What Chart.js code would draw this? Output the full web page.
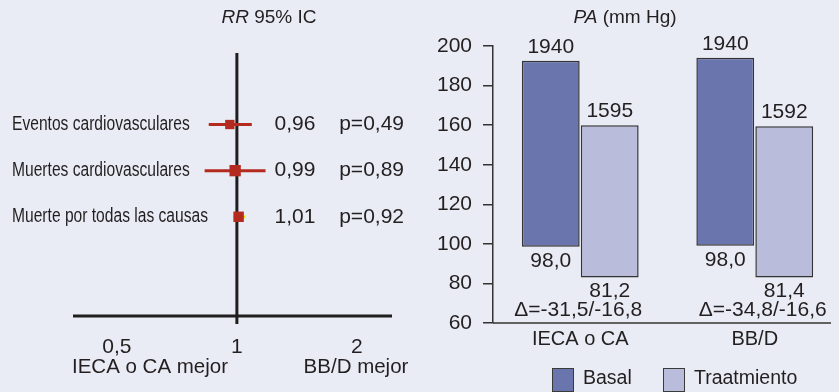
<!DOCTYPE html>
<html lang="es">
<head>
<meta charset="UTF-8">
<title>RR 95% IC y PA</title>
<script src="https://cdn.jsdelivr.net/npm/chart.js@4"></script>
<style>
    html, body {
        margin: 0;
        padding: 0;
        background: #e9ebf5;
        overflow: hidden;
        width: 839px;
        height: 392px;
    }
    #rrChart { position: absolute; left: 0; top: 0; }
    #paChart { position: absolute; left: 420px; top: 0; }
    .leg {
        position: absolute;
        top: 366px;
        height: 26px;
        line-height: 24px;
        font: 19.5px "Liberation Sans", Arial, sans-serif;
        color: #231f20;
    }
    .leg i {
        position: absolute;
        left: 0;
        top: 2px;
        width: 20px;
        height: 22px;
        border: 1.5px solid #3a3a3a;
    }
    .leg span { position: absolute; left: 31px; top: 0; white-space: nowrap; }
</style>
</head>
<body>
<canvas id="rrChart" width="420" height="392"></canvas>
<canvas id="paChart" width="430" height="392"></canvas>
<div class="leg" style="left:552px"><i style="background:#6b75ad"></i><span>Basal</span></div>
<div class="leg" style="left:663px"><i style="background:#b9bcdb"></i><span>Traatmiento</span></div>
<script>
    // ---- forest plot data (RR, 95% IC)
    const outcomes = ['Eventos cardiovasculares', 'Muertes cardiovasculares', 'Muerte por todas las causas'];
    const rr = [0.96, 0.99, 1.01];
    const ciLow = [0.85, 0.83, 0.98];
    const ciHigh = [1.09, 1.18, 1.05];
    const rrText = ['0,96', '0,99', '1,01'];
    const pText = ['p=0,49', 'p=0,89', 'p=0,92'];
    const rrTicks = [0.5, 1, 2];
    const rrTickText = ['0,5', '1', '2'];

    // ---- blood pressure data (mm Hg), floating bars diastolic..systolic
    const groups = ['IECA o CA', 'BB/D'];
    const basalLow = [98.5, 99];
    const basalHigh = [192.5, 194];
    const tratLow = [83, 83];
    const tratHigh = [160, 159.5];
    const basalTop = ['1940', '1940'];
    const basalBottom = ['98,0', '98,0'];
    const tratTop = ['1595', '1592'];
    const tratBottom = ['81,2', '81,4'];
    const deltas = ['\u0394=-31,5/-16,8', '\u0394=-34,8/-16,6'];

    const FONT = '"Liberation Sans", Arial, sans-serif';
    const INK = '#231f20';
    const RED = '#b52a1e';

    function drawTitle(ctx, italic, rest, cx, cy) {
        ctx.textBaseline = 'middle';
        ctx.textAlign = 'left';
        ctx.font = 'italic 19px ' + FONT;
        const w1 = ctx.measureText(italic).width;
        ctx.font = '19px ' + FONT;
        const w2 = ctx.measureText(rest).width;
        let x0 = cx - (w1 + w2) / 2;
        ctx.font = 'italic 19px ' + FONT;
        ctx.fillText(italic, x0, cy);
        ctx.font = '19px ' + FONT;
        ctx.fillText(rest, x0 + w1, cy);
    }

    // lines of the forest plot go under the squares
    const forestLines = {
        id: 'forestLines',
        beforeDatasetsDraw(chart) {
            const { ctx, chartArea: a, scales: { x } } = chart;
            const x1 = x.getPixelForValue(1);
            ctx.save();
            ctx.strokeStyle = '#1e1e1e';
            ctx.lineWidth = 3;
            ctx.beginPath();
            ctx.moveTo(a.left, a.bottom);
            ctx.lineTo(a.right, a.bottom);
            ctx.moveTo(x1, a.top);
            ctx.lineTo(x1, a.bottom + 8);
            ctx.stroke();
            ctx.restore();
        }
    };

    const forestText = {
        id: 'forestText',
        afterDraw(chart) {
            const { ctx, chartArea: a, scales: { x, y } } = chart;
            ctx.save();
            ctx.fillStyle = INK;
            drawTitle(ctx, 'RR', ' 95% IC', 269, 18);

            outcomes.forEach((name, i) => {
                const py = y.getPixelForValue(i + 1);
                ctx.font = '20px ' + FONT;
                ctx.textAlign = 'left';
                ctx.save();
                ctx.translate(12, py);
                ctx.scale(0.78, 1);
                ctx.fillText(name, 0, 0);
                ctx.restore();
                ctx.font = '21px ' + FONT;
                ctx.textAlign = 'center';
                ctx.fillText(rrText[i], 295, py);
                ctx.textAlign = 'right';
                ctx.fillText(pText[i], 404, py);
            });

            ctx.font = '21px ' + FONT;
            ctx.textAlign = 'center';
            rrTicks.forEach((v, i) => ctx.fillText(rrTickText[i], x.getPixelForValue(v), a.bottom + 31));
            ctx.font = '20.5px ' + FONT;
            ctx.fillText('IECA o CA mejor', 150, a.bottom + 51);
            ctx.fillText('BB/D mejor', 356, a.bottom + 51);
            ctx.restore();
        }
    };

    const ciSets = outcomes.map((name, i) => ({
        label: name,
        data: [{ x: ciLow[i], y: i + 1 }, { x: ciHigh[i], y: i + 1 }],
        showLine: true,
        borderColor: i === 2 ? '#f2e000' : RED,
        borderWidth: 3,
        pointRadius: 0,
        order: 2
    }));

    new Chart(document.getElementById('rrChart'), {
        type: 'scatter',
        data: {
            datasets: ciSets.concat([{
                label: 'RR',
                data: rr.map((v, i) => ({ x: v, y: i + 1 })),
                pointStyle: 'rect',
                pointRadius: [6.6, 8, 7.4],
                backgroundColor: RED,
                borderWidth: 0,
                order: 1
            }])
        },
        options: {
            responsive: false,
            animation: false,
            layout: { padding: { left: 73, right: 28, top: 53, bottom: 76 } },
            plugins: { legend: { display: false }, tooltip: { enabled: false } },
            scales: {
                x: { type: 'logarithmic', min: 0.388, max: 2.45, display: false },
                y: { type: 'linear', min: -0.55, max: 5.15, reverse: true, display: false }
            }
        },
        plugins: [forestLines, forestText]
    });

    const barText = {
        id: 'barText',
        afterDraw(chart) {
            const { ctx, chartArea: a, scales: { x } } = chart;
            const tops = [basalTop, tratTop];
            const bottoms = [basalBottom, tratBottom];
            ctx.save();
            ctx.fillStyle = INK;
            ctx.font = '21px ' + FONT;
            ctx.textAlign = 'center';
            ctx.textBaseline = 'middle';
            chart.data.datasets.forEach((ds, d) => {
                chart.getDatasetMeta(d).data.forEach((bar, i) => {
                    const hi = Math.min(bar.y, bar.base);
                    const lo = Math.max(bar.y, bar.base);
                    ctx.fillText(tops[d][i], bar.x, hi - 14);
                    ctx.fillText(bottoms[d][i], bar.x, lo + 14);
                });
            });
            groups.forEach((g, i) => ctx.fillText(deltas[i], x.getPixelForValue(i) + (i ? 8 : -2), a.bottom - 13));

            ctx.strokeStyle = '#333';
            ctx.lineWidth = 1.5;
            ctx.beginPath();
            ctx.moveTo(a.left, a.bottom);
            ctx.lineTo(a.right - 11, a.bottom);
            ctx.stroke();

            drawTitle(ctx, 'PA', ' (mm Hg)', 205, 18);
            ctx.restore();
        }
    };

    new Chart(document.getElementById('paChart'), {
        type: 'bar',
        data: {
            labels: groups,
            datasets: [{
                label: 'Basal',
                data: groups.map((g, i) => [basalLow[i], basalHigh[i]]),
                backgroundColor: '#6b75ad',
                borderColor: '#333',
                borderWidth: 1.5,
                borderSkipped: false
            }, {
                label: 'Traatmiento',
                data: groups.map((g, i) => [tratLow[i], tratHigh[i]]),
                backgroundColor: '#b9bcdb',
                borderColor: '#333',
                borderWidth: 1.5,
                borderSkipped: false
            }]
        },
        options: {
            responsive: false,
            animation: false,
            categoryPercentage: 0.676,
            barPercentage: 0.98,
            layout: { padding: { left: 0, right: 8, top: 46, bottom: 0 } },
            plugins: { legend: { display: false }, tooltip: { enabled: false } },
            scales: {
                x: {
                    grid: { display: false, drawTicks: false, tickLength: 0 },
                    border: { display: false },
                    ticks: { font: { family: FONT, size: 20 }, color: INK, padding: 4 },
                    afterFit(s) { s.height = 69; }
                },
                y: {
                    min: 60,
                    max: 200,
                    ticks: { stepSize: 20, font: { family: FONT, size: 21 }, color: INK, padding: 11 },
                    grid: { drawOnChartArea: false, tickLength: 10, color: '#333', lineWidth: 1.5 },
                    border: { color: '#333', width: 1.5 },
                    afterFit(s) { s.width = 73; }
                }
            }
        },
        plugins: [barText]
    });
</script>
</body>
</html>
